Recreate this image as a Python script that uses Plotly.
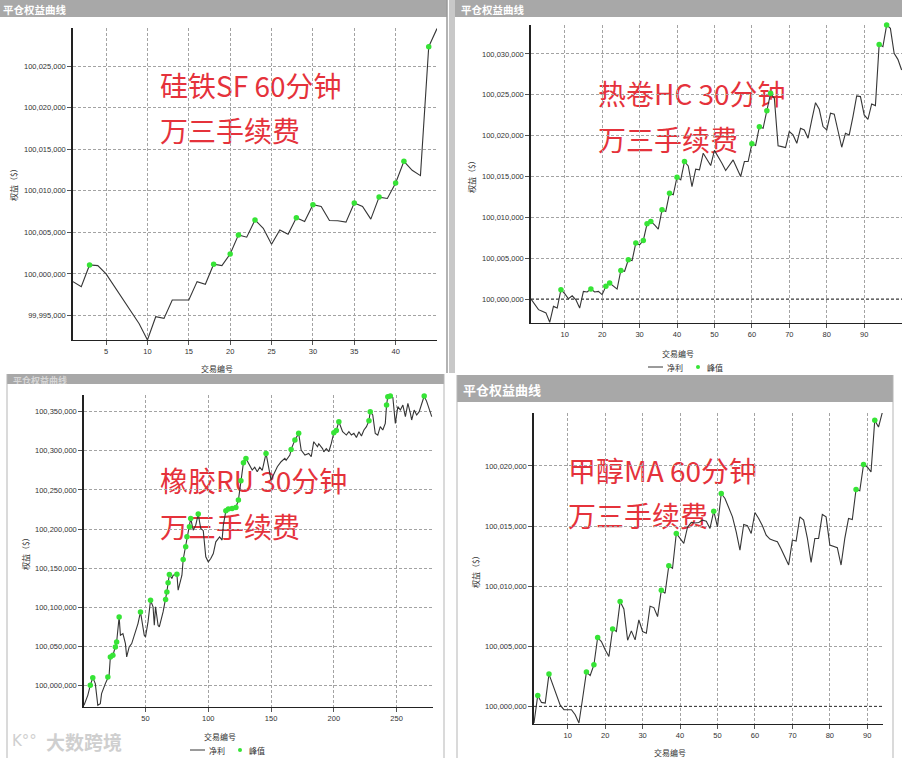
import plotly.graph_objects as go

W, H = 902, 758

# ---------------- data ----------------
# Panel 1: 硅铁SF 60分钟 (trade 1..45)
p1_vals = [99999075, 99998470, 100001085, 100001000, 100000000, 99998500, 99996900, 99995500,
           99994000, 99992050, 99994850, 99994650, 99996860, 99996860, 99996860, 99999075,
           99998750, 100001170, 100001000, 100002410, 100004700, 100004420, 100006500, 100005500,
           100003580, 100005300, 100004790, 100006760, 100006320, 100008330, 100008130, 100006440,
           100006400, 100006240, 100008530, 100008130, 100006600, 100009250, 100009090, 100010940,
           100013560, 100012470, 100011830, 100027350, 100029530]
p1_peaks = [3, 18, 20, 21, 23, 28, 30, 35, 38, 40, 41, 44]

# Panel 2: 热卷HC 30分钟 (trade 1..100)
p2_vals = [100000000, 99999300, 99998700, 99998500, 99998300, 99997150, 99999100, 99998900,
           100001140, 100000650, 100000040, 100000400, 99999900, 99998900, 100000940, 100000860,
           100001220, 100000860, 100000940, 100000530, 100001550, 100001960, 100001550, 100001220,
           100003500, 100003400, 100004810, 100004700, 100006850, 100006640, 100007170, 100009210,
           100009490, 100009090, 100008560, 100010920, 100010720, 100012960, 100012760, 100014910,
           100014590, 100016830, 100016300, 100013770, 100015890, 100015810, 100017850, 100017030,
           100016340, 100018200, 100017440, 100016630, 100015730, 100016420, 100017030, 100016010,
           100015000, 100016830, 100016830, 100019000, 100018800, 100021100, 100020900, 100023060,
           100025180, 100024570, 100018750, 100018660, 100018540, 100020500, 100020090, 100019070,
           100020900, 100020700, 100019680, 100021920, 100024040, 100023230, 100021110, 100020700,
           100022740, 100022620, 100020700, 100018580, 100020290, 100020090, 100022330, 100024860,
           100024780, 100022540, 100022000, 100023880, 100023680, 100031170, 100030890, 100033540,
           100033130, 100030070, 100029340, 100028040]
p2_peaks = [9, 17, 21, 22, 25, 27, 29, 31, 32, 33, 36, 38, 40, 42, 60, 62, 64, 65, 94, 96]

# Panel 3: 橡胶RU 30分钟 (trade numbers of the line's vertices, 1..278)
p3_trades = [1, 4, 6, 8, 10, 12, 14, 15, 18, 20, 21, 22, 24, 26, 27, 29, 30, 32, 34, 35, 37, 39,
             42, 44, 46, 47, 49, 50, 52, 54, 56, 57, 58, 60, 61, 64, 66, 67, 68, 69, 71, 72, 75,
             76, 77, 79, 80, 82, 83, 85, 86, 88, 90, 92, 94, 96, 98, 100, 102, 104, 106, 109, 111,
             112, 114, 116, 119, 122, 124, 126, 128, 130, 133, 135, 137, 139, 141, 143, 146, 147,
             149, 150, 153, 155, 158, 161, 162, 165, 166, 169, 172, 174, 177, 180, 182, 184, 187,
             188, 191, 192, 194, 196, 198, 200, 202, 204, 207, 210, 212, 214, 216, 218, 220, 222,
             224, 226, 228, 229, 231, 233, 235, 237, 239, 241, 242, 243, 245, 247, 249, 251, 253,
             255, 257, 258, 259, 261, 262, 264, 266, 268, 270, 272, 274, 276, 278]
p3_vals = [99974850, 99987640, 100000430, 100010230, 100002560, 99974850, 99977000, 99989770,
           100002560, 100011080, 100013215, 100036660, 100038790, 100049450, 100055845, 100087820,
           100064370, 100066500, 100053710, 100036660, 100049450, 100053710, 100068630, 100079290,
           100094210, 100083550, 100064370, 100062240, 100081420, 100109130, 100100610, 100077160,
           100100610, 100077160, 100075030, 100094210, 100110000, 100119790, 100131300, 100141960,
           100136840, 100141110, 100142390, 100121920, 100128320, 100141110, 100161140, 100177340,
           100190130, 100202920, 100213580, 100198660, 100205000, 100219120, 100200790, 100198000,
           100164550, 100158160, 100162420, 100168810, 100183740, 100190130, 100186000, 100205000,
           100223380, 100225510, 100226370, 100227640, 100237020, 100261750, 100284770, 100290310,
           100281790, 100275400, 100279000, 100273260, 100279000, 100275000, 100296700, 100286050,
           100271130, 100262600, 100273260, 100279650, 100286050, 100290310, 100288000, 100294570,
           100301820, 100313760, 100322280, 100300970, 100294570, 100296700, 100292440, 100311630,
           100305230, 100309000, 100302800, 100298600, 100302800, 100298840, 100309490, 100323140,
           100326000, 100337200, 100324410, 100320150, 100324410, 100320150, 100322280, 100317000,
           100324410, 100318900, 100326600, 100330800, 100338480, 100350000, 100345700, 100322280,
           100320150, 100330800, 100326600, 100335070, 100358520, 100369180, 100370030, 100368330,
           100335070, 100356390, 100352100, 100358500, 100343600, 100354250, 100360650, 100347850,
           100339340, 100352100, 100345700, 100350000, 100360650, 100370030, 100362800, 100354250,
           100343600]
p3_peaks = [6, 8, 20, 22, 24, 26, 27, 29, 46, 54, 66, 67, 68, 69, 75, 80, 82, 83, 85, 86, 92,
            114, 116, 119, 122, 124, 126, 128, 130, 146, 166, 169, 172, 200, 202, 204, 228, 229,
            242, 243, 245, 272]

# Panel 4: 甲醇MA 60分钟 (trade 1..94)
p4_vals = [99998620, 100000913, 100000330, 100000277, 100002683, 100001798, 100001000, 100000100,
           99999723, 99999723, 99999723, 99999300, 99998617, 100000700, 100002849, 100002572,
           100003457, 100005726, 100005394, 100004702, 100004149, 100006445, 100006224, 100008713,
           100008104, 100005504, 100006279, 100005532, 100007192, 100006224, 100006085, 100008326,
           100008215, 100007468, 100009653, 100009404, 100011700, 100011479, 100014383, 100013968,
           100013553, 100014900, 100015300, 100015250, 100015296, 100015490, 100015400, 100014800,
           100016236, 100014936, 100017702, 100017288, 100016458, 100015766, 100014521, 100013000,
           100015130, 100015020, 100014380, 100016126, 100015628, 100015020, 100014245, 100013913,
           100013800, 100013690, 100013083, 100012447, 100011756, 100013830, 100013747, 100015766,
           100015490, 100014000, 100011977, 100013968, 100013968, 100015960, 100015766, 100013415,
           100013300, 100013200, 100011756, 100013968, 100015628, 100015545, 100018034, 100017924,
           100020109, 100019915, 100019500, 100023788, 100023234, 100024424]
p4_peaks = [2, 5, 15, 17, 18, 22, 24, 35, 37, 39, 49, 51, 87, 89, 92, 94]

titles_1 = ["硅铁SF 60分钟", "热卷HC 30分钟", "橡胶RU 30分钟", "甲醇MA 60分钟"]
title_2 = "万三手续费"
header_title = "平仓权益曲线"
x_title = "交易编号"
y_title = "权益（$）"
legend_line = "净利"
legend_dot = "峰值"

# ---------------- styling ----------------
RED = "#e5323b"
LINE = "#363636"
GREEN = "#36e436"
GRID = "#a3a3a3"
HEAD = "#a8a8a8"
TICKF = dict(size=7.5, color="#333333", family="Liberation Sans")
CJK = "Noto Sans CJK SC"


def fx(p):
    return p / W


def fy(p):
    return 1 - p / H


fig = go.Figure()

# page overlay axes for the red captions (drawn beneath the curves)
cap_x = [160, 160, 598, 598, 160, 160, 568, 568]
cap_y = [90, 135, 98, 144, 485, 531, 475, 520]
cap_t = [titles_1[0], title_2, titles_1[1], title_2, titles_1[2], title_2, titles_1[3], title_2]
fig.add_trace(go.Scatter(x=cap_x, y=cap_y, text=cap_t, mode="text", textposition="middle right",
                         textfont=dict(size=28, color=RED, family=CJK), xaxis="x", yaxis="y",
                         cliponaxis=False, showlegend=False, hoverinfo="skip"))

layout_axes = dict(
    xaxis=dict(domain=[0, 1], range=[0, W], visible=False, fixedrange=True),
    yaxis=dict(domain=[0, 1], range=[H, 0], visible=False, fixedrange=True),
)

panels = [
    # n, x px, y px, xrange, yrange, xticks, yticks
    (2, (73, 437), (28, 340), [1, 45], [99992050, 100029600], list(range(5, 45, 5)),
     list(range(99995000, 100030000, 5000))),
    (3, (531, 902), (25, 323), [1, 100.1], [99997066, 100033545], list(range(10, 100, 10)),
     list(range(100000000, 100031000, 5000))),
    (4, (84, 433), (395, 707), [1, 279], [99972720, 100371300], list(range(50, 300, 50)),
     list(range(100000000, 100351000, 50000))),
    (5, (534, 883), (413, 724), [1, 94.2], [99998534, 100024400], list(range(10, 100, 10)),
     list(range(100000000, 100021000, 5000))),
]

for n, (xa, xb), (ya, yb), xr, yr, xt, yt in panels:
    layout_axes[f"xaxis{n}"] = dict(
        domain=[fx(xa), fx(xb)], range=xr, anchor=f"y{n}", tickvals=xt, showgrid=True,
        gridcolor=GRID, griddash="3px,2px", gridwidth=1, showline=True, linecolor="#222222",
        linewidth=1, ticks="outside", ticklen=4, tickcolor="#555555", tickfont=TICKF,
        zeroline=False, fixedrange=True)
    layout_axes[f"yaxis{n}"] = dict(
        domain=[fy(yb), fy(ya)], range=yr, anchor=f"x{n}", tickvals=yt, tickformat=",d",
        showgrid=True, gridcolor=GRID, griddash="3px,2px", gridwidth=1, showline=True,
        linecolor="#222222", linewidth=1.5, ticks="outside", ticklen=4, tickcolor="#555555",
        tickfont=TICKF, zeroline=False, fixedrange=True)

series = [
    (2, list(range(1, len(p1_vals) + 1)), p1_vals, p1_peaks),
    (3, list(range(1, len(p2_vals) + 1)), p2_vals, p2_peaks),
    (4, p3_trades, p3_vals, p3_peaks),
    (5, list(range(1, len(p4_vals) + 1)), p4_vals, p4_peaks),
]
for n, xs, ys, pk in series:
    lookup = dict(zip(xs, ys))
    fig.add_trace(go.Scatter(x=xs, y=ys, mode="lines", line=dict(color=LINE, width=1.1),
                             xaxis=f"x{n}", yaxis=f"y{n}", showlegend=False, hoverinfo="skip"))
    fig.add_trace(go.Scatter(x=pk, y=[lookup[k] for k in pk], mode="markers",
                             marker=dict(color=GREEN, size=5.5), cliponaxis=False,
                             xaxis=f"x{n}", yaxis=f"y{n}", showlegend=False, hoverinfo="skip"))

shapes = []
# darker initial-capital reference lines
for n in (3, 5):
    shapes.append(dict(type="line", xref=f"x{n} domain", x0=0, x1=1, yref=f"y{n}",
                       y0=100000000, y1=100000000, line=dict(color="#333333", width=1, dash="3px,2px")))


def prect(x0, y0, x1, y1, fill):
    return dict(type="rect", xref="paper", yref="paper", x0=fx(x0), x1=fx(x1), y0=fy(y1), y1=fy(y0),
                fillcolor=fill, layer="below", line=dict(width=0))


def pline(x0, y0, x1, y1, color, width=1):
    return dict(type="line", xref="paper", yref="paper", x0=fx(x0), x1=fx(x1), y0=fy(y0), y1=fy(y1),
                line=dict(color=color, width=width), layer="below")


# header bars and panel frames
shapes += [
    prect(0, 0, 447, 17, HEAD),
    prect(455, 0, 902, 17, HEAD),
    prect(7, 374, 444, 384, HEAD),
    prect(457, 375, 893, 402, HEAD),
    prect(449, 0, 455, 373, "#c8c8c8"),
    pline(447, 0, 447, 373, "#9a9a9a", 1.5),
    pline(7, 374, 7, 758, "#b5b5b5"),
    pline(444, 374, 444, 758, "#b5b5b5"),
    pline(457, 375, 457, 758, "#b5b5b5"),
    pline(893, 375, 893, 758, "#b5b5b5"),
]

annotations = []


def pann(x, y, text, size=8, color="#333333", xanchor="center", angle=0, bold=False, family=CJK):
    t = f"<b>{text}</b>" if bold else text
    annotations.append(dict(x=fx(x), y=fy(y), xref="paper", yref="paper", text=t, showarrow=False,
                            xanchor=xanchor, yanchor="middle", textangle=angle, borderpad=0,
                            font=dict(size=size, color=color, family=family)))


# header titles
pann(2, 9, header_title, size=10.5, color="white", xanchor="left", bold=True)
pann(460, 9, header_title, size=10.5, color="white", xanchor="left", bold=True)
pann(12, 380, header_title, size=9, color="rgba(255,255,255,0.55)", xanchor="left", bold=True)
pann(462, 389, header_title, size=13, color="white", xanchor="left", bold=True)

# axis titles
pann(217, 369, x_title)
pann(678, 353, x_title)
pann(220, 736, x_title)
pann(670, 752, x_title)
pann(13, 183, y_title, angle=-90)
pann(472, 175, y_title, angle=-90)
pann(25, 552, y_title, angle=-90)
pann(475, 570, y_title, angle=-90)

# legends (panels 2 and 3 visible)
for lx, ly in ((648, 367), (190, 750)):
    shapes.append(dict(type="line", xref="paper", yref="paper", x0=fx(lx), x1=fx(lx + 15),
                       y0=fy(ly), y1=fy(ly), line=dict(color=LINE, width=1)))
    pann(lx + 18, ly, legend_line, xanchor="left")
    shapes.append(dict(type="circle", xref="paper", yref="paper", x0=fx(lx + 48), x1=fx(lx + 52),
                       y0=fy(ly + 2), y1=fy(ly - 2), fillcolor=GREEN, line=dict(width=0)))
    pann(lx + 58, ly, legend_dot, xanchor="left")

# watermark
pann(45, 741, "大数跨境", size=19, color="#cfcfcf", xanchor="left", bold=True)
pann(24, 741, "K°°", size=15, color="#cfcfcf", xanchor="center", family="DejaVu Sans")

fig.update_layout(
    width=W, height=H, margin=dict(l=0, r=0, t=0, b=0),
    paper_bgcolor="white", plot_bgcolor="rgba(0,0,0,0)",
    shapes=shapes, annotations=annotations, showlegend=False,
    **layout_axes,
)

fig.write_html("out.html", config={"displayModeBar": False},
               post_script="document.body.style.margin='0';document.body.style.overflow='hidden';")
